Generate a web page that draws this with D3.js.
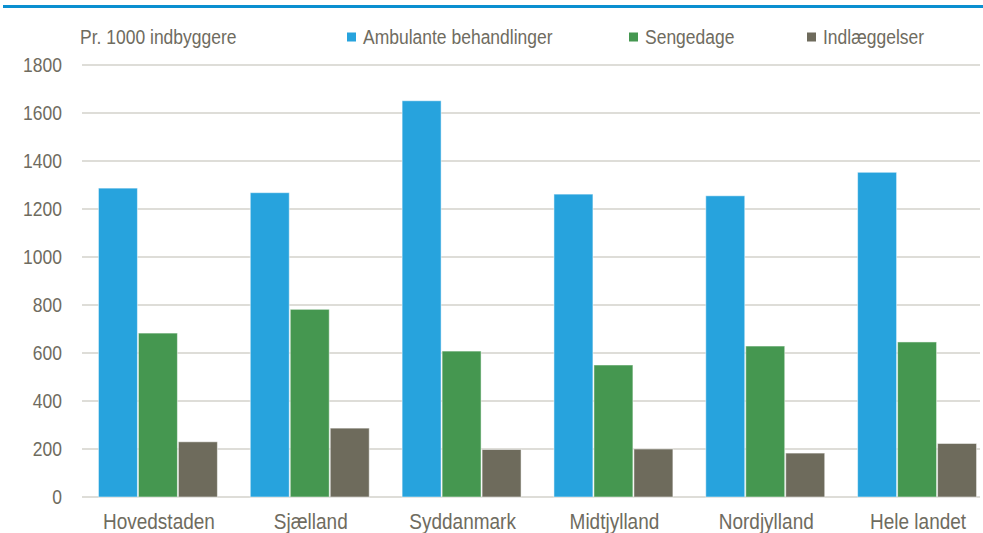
<!DOCTYPE html>
<html>
<head>
<meta charset="utf-8">
<script src="https://cdn.jsdelivr.net/npm/d3@7"></script>
<style>
  body { margin: 0; background: #fff; }
  svg text { font-family: "Liberation Sans", Arial, sans-serif; fill: #6f6c5f; }
</style>
</head>
<body>
<div id="chart"></div>
<script>
// Data
const regions = ["Hovedstaden", "Sjælland", "Syddanmark", "Midtjylland", "Nordjylland", "Hele landet"];
const seriesNames = ["Ambulante behandlinger", "Sengedage", "Indlæggelser"];
const ambulante = [1287, 1268, 1651, 1262, 1255, 1353];
const sengedage = [683, 782, 608, 550, 629, 646];
const indlaeggelser = [230, 287, 198, 200, 183, 223];
const yTicks = [0, 200, 400, 600, 800, 1000, 1200, 1400, 1600, 1800];
const colors = ["#27a3dd", "#459750", "#6e6b5c"];

const width = 983, height = 533;
const margin = { top: 65, right: -10, bottom: 36, left: 82 };
const stretch = 1.15; // text in the reference is a bit taller than wide

const svg = d3.select("#chart").append("svg")
    .attr("width", width)
    .attr("height", height);

// Blue rule at the top
svg.append("rect")
    .attr("x", 3).attr("y", 5)
    .attr("width", width - 3).attr("height", 3)
    .attr("fill", "#0a8fd0");

const x0 = d3.scaleBand()
    .domain(regions)
    .range([margin.left, width - margin.right])
    .paddingInner(0.21)
    .paddingOuter(0.105);

const x1 = d3.scaleBand()
    .domain(seriesNames)
    .range([0, x0.bandwidth()]);

const y = d3.scaleLinear()
    .domain([0, 1800])
    .range([height - margin.bottom, margin.top]);

// helper: place a text at (x, y) stretched vertically
function place(sel, fx, fy) {
    sel.attr("transform", (d, i) => `translate(${fx(d, i)},${fy(d, i)}) scale(1,${stretch})`);
}

// Gridlines
svg.append("g")
    .selectAll("line")
    .data(yTicks)
    .join("line")
    .attr("x1", margin.left)
    .attr("x2", 980)
    .attr("y1", d => y(d))
    .attr("y2", d => y(d))
    .attr("stroke", "#d3d2cb")
    .attr("stroke-width", 1.5);

// Y tick labels
svg.append("g")
    .selectAll("text")
    .data(yTicks)
    .join("text")
    .call(place, () => 62, d => y(d) + 7)
    .attr("text-anchor", "end")
    .style("font-size", "17.5px")
    .text(d => d);

// Bars
const rows = regions.map((r, i) => ({
    region: r,
    values: [ambulante[i], sengedage[i], indlaeggelser[i]]
}));

svg.append("g")
    .selectAll("g")
    .data(rows)
    .join("g")
    .attr("transform", d => `translate(${x0(d.region)},0)`)
    .selectAll("rect")
    .data(d => d.values.map((v, j) => ({ key: seriesNames[j], value: v, color: colors[j] })))
    .join("rect")
    .attr("x", d => x1(d.key) + 0.5)
    .attr("y", d => y(d.value))
    .attr("width", x1.bandwidth() - 1)
    .attr("height", d => y(0) - y(d.value))
    .attr("fill", d => d.color)
    .attr("stroke", "#ffffff")
    .attr("stroke-opacity", 0.5)
    .attr("stroke-width", 1);

// Category labels
svg.append("g")
    .selectAll("text")
    .data(regions)
    .join("text")
    .call(place, d => x0(d) + x0.bandwidth() / 2 + 1, () => 529)
    .attr("text-anchor", "middle")
    .style("font-size", "19px")
    .text(d => d);

// Axis title
svg.append("text")
    .datum("Pr. 1000 indbyggere")
    .call(place, () => 80, () => 44)
    .style("font-size", "17.5px")
    .text(d => d);

// Legend
const legendX = [347, 629, 807];
const legend = svg.append("g")
    .selectAll("g")
    .data(seriesNames)
    .join("g")
    .attr("transform", (d, i) => `translate(${legendX[i]},0)`);

legend.append("rect")
    .attr("x", 0).attr("y", 32.5)
    .attr("width", 9).attr("height", 9)
    .attr("fill", (d, i) => colors[i]);

legend.append("text")
    .call(place, () => 16, () => 44)
    .style("font-size", "17.5px")
    .text(d => d);
</script>
</body>
</html>
